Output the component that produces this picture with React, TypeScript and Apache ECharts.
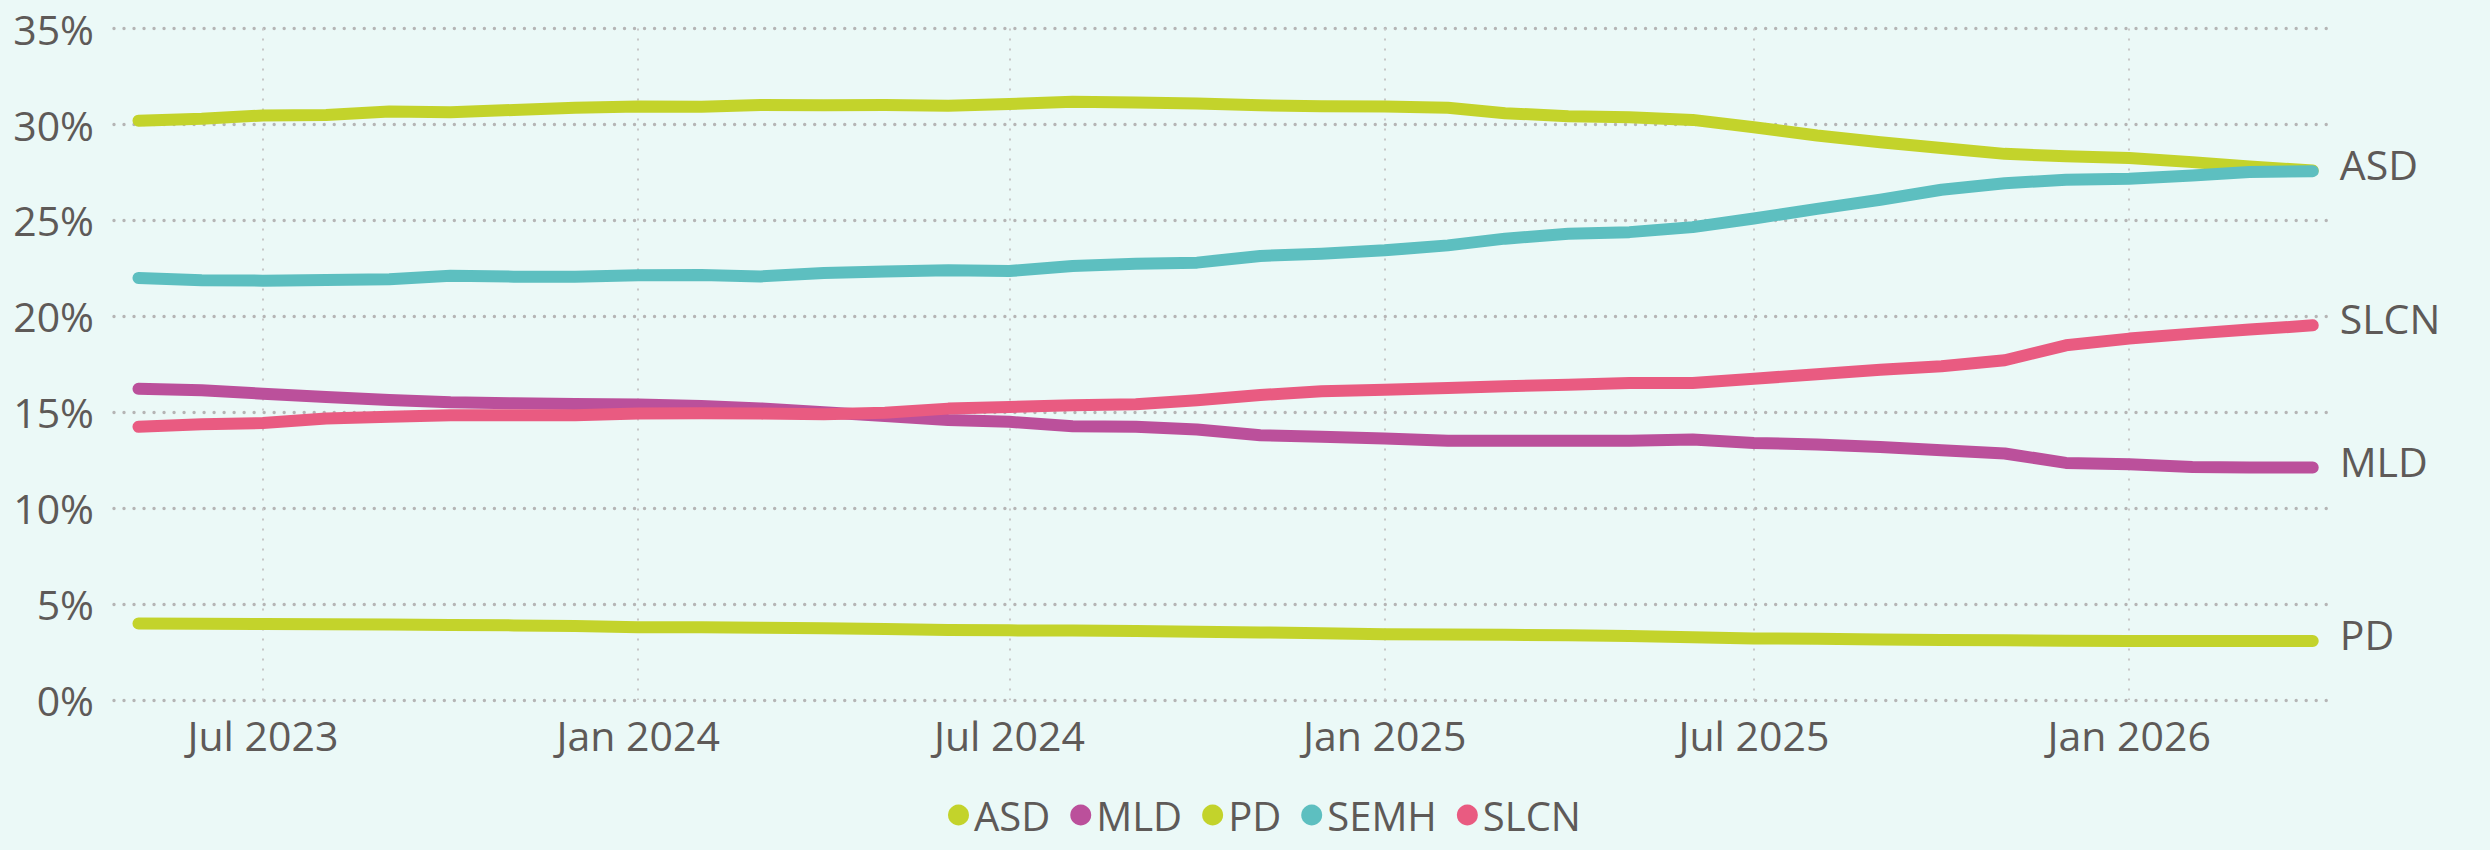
import React, { useEffect, useRef } from "react";
import * as echarts from "echarts";

// Monthly dates: May 2023 – Apr 2026 (year, monthIndex)
const startYear = 2023;
const startMonth = 4; // May (0-based)
const monthCount = 36;

const seriesNames = ["ASD", "MLD", "PD", "SEMH", "SLCN"];

const asdValues = [
  30.2, 30.3, 30.47, 30.5, 30.68, 30.64, 30.76, 30.87, 30.94, 30.93, 31.02, 31.0,
  31.02, 30.98, 31.07, 31.19, 31.15, 31.1, 31.0, 30.95, 30.94, 30.87, 30.59, 30.43,
  30.38, 30.24, 29.86, 29.43, 29.08, 28.78, 28.47, 28.35, 28.26, 28.04, 27.81, 27.6,
];
const mldValues = [
  16.22, 16.15, 15.97, 15.8, 15.64, 15.52, 15.47, 15.43, 15.4, 15.33, 15.2, 15.0,
  14.8, 14.6, 14.5, 14.27, 14.24, 14.1, 13.8, 13.72, 13.63, 13.51, 13.51, 13.51,
  13.51, 13.58, 13.4, 13.32, 13.19, 13.02, 12.85, 12.36, 12.29, 12.15, 12.12, 12.12,
];
const pdValues = [
  3.99, 3.98, 3.96, 3.95, 3.93, 3.91, 3.89, 3.86, 3.79, 3.79, 3.77, 3.74,
  3.7, 3.65, 3.63, 3.62, 3.6, 3.56, 3.52, 3.48, 3.43, 3.42, 3.4, 3.37,
  3.33, 3.27, 3.21, 3.19, 3.16, 3.13, 3.11, 3.09, 3.07, 3.07, 3.07, 3.07,
];
const semhValues = [
  22.0, 21.88, 21.86, 21.89, 21.93, 22.12, 22.07, 22.07, 22.14, 22.16, 22.08, 22.26,
  22.34, 22.4, 22.36, 22.62, 22.74, 22.8, 23.15, 23.26, 23.44, 23.7, 24.05, 24.31,
  24.39, 24.65, 25.1, 25.6, 26.08, 26.6, 26.94, 27.12, 27.17, 27.34, 27.52, 27.57,
];
const slcnValues = [
  14.24, 14.38, 14.44, 14.67, 14.76, 14.84, 14.84, 14.84, 14.93, 14.95, 14.93, 14.9,
  14.97, 15.19, 15.28, 15.36, 15.42, 15.63, 15.9, 16.09, 16.17, 16.27, 16.35, 16.44,
  16.53, 16.53, 16.75, 16.98, 17.22, 17.4, 17.71, 18.49, 18.84, 19.1, 19.31, 19.53,
];

const colors = ["#C3D32B", "#BB509B", "#C3D32B", "#5DBFC0", "#E95B81"];
const showEndLabel = [true, true, true, false, true];

// x tick labels (year, monthIndex)
const tickMonths: [number, number][] = [
  [2023, 6], [2024, 0], [2024, 6], [2025, 0], [2025, 6], [2026, 0],
];
const monthNames = ["Jan", "Feb", "Mar", "Apr", "May", "Jun", "Jul", "Aug", "Sep", "Oct", "Nov", "Dec"];

const yTicks = [0, 5, 10, 15, 20, 25, 30, 35];

const TEXT = "#5E5A58";
const FONT = "'Open Sans', 'Noto Sans', sans-serif";
const WEIGHT = 500;

export default function App() {
  const ref = useRef<HTMLDivElement>(null);
  useEffect(() => {
    if (!ref.current) return;
    const chart = echarts.init(ref.current, undefined, { renderer: "svg" });
    const dates: number[] = [];
    for (let i = 0; i < monthCount; i++) {
      dates.push(new Date(startYear, startMonth + i, 1).getTime());
    }
    const allValues = [asdValues, mldValues, pdValues, semhValues, slcnValues];
    const tickValues = tickMonths.map(([y, m]) => new Date(y, m, 1).getTime());

    chart.setOption({
      animation: false,
      backgroundColor: "#EBF9F7",
      textStyle: { fontFamily: FONT },
      grid: { left: 114, right: 163, top: 28.6, bottom: 150, containLabel: false },
      legend: {
        top: 790,
        left: 943,
        icon: "circle",
        itemWidth: 21,
        itemHeight: 21,
        itemGap: 20,
        textStyle: { fontSize: 40, color: TEXT, fontFamily: FONT, fontWeight: WEIGHT },
        data: seriesNames,
      },
      xAxis: {
        type: "value",
        min: new Date(2023, 3, 19).getTime(),
        max: new Date(2026, 3, 8).getTime(),
        axisLine: { show: false },
        axisTick: { show: false, customValues: tickValues },
        axisLabel: {
          customValues: tickValues,
          fontSize: 41,
          color: TEXT,
          fontFamily: FONT,
          fontWeight: WEIGHT,
          margin: 14,
          formatter: (v: number) => {
            const d = new Date(v);
            return monthNames[d.getMonth()] + " " + d.getFullYear();
          },
        },
        splitLine: {
          show: true,
          lineStyle: { color: "#C8C8C8", width: 2, type: [2, 8] },
        },
      },
      yAxis: {
        type: "value",
        min: yTicks[0],
        max: yTicks[yTicks.length - 1],
        interval: 5,
        axisLine: { show: false },
        axisTick: { show: false },
        axisLabel: {
          formatter: "{value}%",
          fontSize: 41,
          color: TEXT,
          fontFamily: FONT,
          fontWeight: WEIGHT,
          margin: 20,
        },
        splitLine: {
          show: true,
          lineStyle: { color: "#B5B5B5", width: 3.4, type: [0.01, 10], cap: "round" },
        },
      },
      series: seriesNames.map((name, i) => ({
        name,
        type: "line",
        data: dates.map((d, j) => [d, allValues[i][j]]),
        showSymbol: false,
        symbol: "none",
        color: colors[i],
        itemStyle: { color: colors[i] },
        lineStyle: { width: 12, color: colors[i], cap: "round", join: "round" },
        endLabel: {
          show: showEndLabel[i],
          formatter: "{a}",
          fontSize: 41,
          color: TEXT,
          fontFamily: FONT,
          fontWeight: WEIGHT,
          distance: 27,
          offset: [0, -7],
        },
        z: 2 + i,
      })),
    });
    return () => chart.dispose();
  }, []);
  return (
    <div
      ref={ref}
      style={{ position: "fixed", left: 0, top: 0, width: 2490, height: 850 }}
    />
  );
}
